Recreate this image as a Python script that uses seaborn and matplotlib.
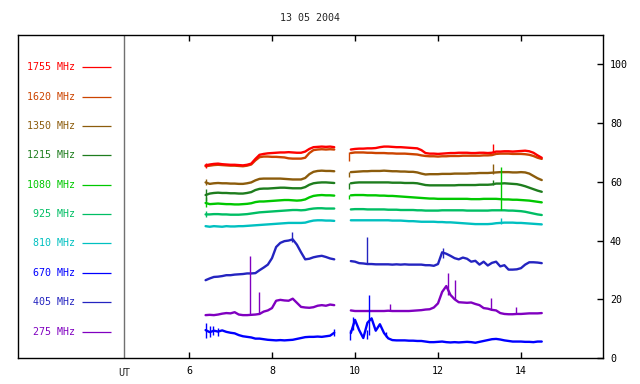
import numpy as np
import pandas as pd
import matplotlib
matplotlib.use("Agg")
import matplotlib.pyplot as plt
import matplotlib.transforms as mtransforms
import seaborn as sns

# ---------------- data ----------------
freq_labels = ["1755 MHz", "1620 MHz", "1350 MHz", "1215 MHz", "1080 MHz",
               "925 MHz", "810 MHz", "670 MHz", "405 MHz", "275 MHz"]
freq_colors = ["#ff0000", "#cc4400", "#8c5c0c", "#1e7d1e", "#00c800",
               "#00be64", "#00c0c0", "#0000ff", "#2424c0", "#8000c0"]
legend_levels = [99, 89, 79, 69, 59, 49, 39, 29, 19, 9]

x_ticks = [6, 8, 10, 12, 14]
y_ticks = [0, 20, 40, 60, 80, 100]
title_text = "13 05 2004"

times_a = [6.4, 6.5, 6.6, 6.7, 6.8, 6.9, 7.0, 7.1, 7.2, 7.3, 7.4, 7.5, 7.6, 7.7,
           7.8, 7.9, 8.0, 8.1, 8.2, 8.3, 8.4, 8.5, 8.6, 8.7, 8.8, 8.9, 9.0, 9.1,
           9.2, 9.3, 9.4, 9.5]
times_b = [9.9, 10.0, 10.1, 10.2, 10.3, 10.4, 10.5, 10.6, 10.7, 10.8, 10.9,
           11.0, 11.1, 11.2, 11.3, 11.4, 11.5, 11.6, 11.7, 11.8, 11.9,
           12.0, 12.1, 12.2, 12.3, 12.4, 12.5, 12.6, 12.7, 12.8, 12.9,
           13.0, 13.1, 13.2, 13.3, 13.4, 13.5, 13.6, 13.7, 13.8, 13.9,
           14.0, 14.1, 14.2, 14.3, 14.4, 14.5]

f1755_a = [65.6, 65.9, 66.1, 66.2, 66.0, 65.9, 65.8, 65.8, 65.7, 65.6, 65.8, 66.2,
           67.8, 69.2, 69.5, 69.7, 69.8, 69.9, 70.0, 70.0, 70.1, 70.0, 69.9, 69.9,
           70.3, 71.2, 71.8, 71.9, 72.0, 71.9, 72.0, 71.8]
f1755_b = [71.0, 71.2, 71.3, 71.3, 71.4, 71.4, 71.5, 71.8, 72.0, 72.0, 71.9,
           71.8, 71.8, 71.7, 71.6, 71.5, 71.4, 70.8, 69.8, 69.6, 69.6,
           69.5, 69.6, 69.7, 69.8, 69.8, 69.9, 69.9, 69.9, 69.8, 69.8,
           69.9, 69.9, 69.8, 69.9, 70.3, 70.3, 70.4, 70.4, 70.3, 70.4,
           70.5, 70.6, 70.4, 69.9, 69.0, 68.2]

f1620_a = [65.3, 65.5, 65.7, 65.8, 65.7, 65.6, 65.5, 65.5, 65.4, 65.3, 65.5, 65.9,
           67.3, 68.4, 68.6, 68.6, 68.5, 68.5, 68.4, 68.3, 68.0, 67.9, 67.9, 67.9,
           68.2, 69.8, 70.8, 71.0, 71.1, 71.0, 71.1, 71.0]
f1620_b = [69.8, 70.0, 70.0, 70.0, 69.9, 69.9, 69.8, 69.8, 69.8, 69.7, 69.7,
           69.6, 69.6, 69.6, 69.5, 69.4, 69.3, 69.0, 68.8, 68.7, 68.7,
           68.6, 68.7, 68.7, 68.8, 68.8, 68.8, 68.9, 68.9, 68.9, 68.9,
           68.9, 69.0, 69.0, 69.1, 69.5, 69.6, 69.6, 69.6, 69.5, 69.5,
           69.5, 69.4, 69.2, 68.8, 68.2, 67.8]

f1350_a = [59.8, 59.3, 59.5, 59.6, 59.5, 59.5, 59.4, 59.4, 59.3, 59.3, 59.5, 59.8,
           60.5, 61.0, 61.1, 61.1, 61.1, 61.1, 61.1, 61.0, 60.9, 60.8, 60.8, 60.8,
           61.3, 62.6, 63.4, 63.7, 63.8, 63.7, 63.7, 63.6]
f1350_b = [63.3, 63.4, 63.5, 63.6, 63.6, 63.7, 63.7, 63.7, 63.8, 63.7, 63.6,
           63.6, 63.5, 63.5, 63.4, 63.4, 63.2, 62.8, 62.5, 62.6, 62.6,
           62.6, 62.7, 62.7, 62.7, 62.8, 62.8, 62.8, 62.8, 62.9, 62.9,
           63.0, 63.0, 63.0, 63.1, 63.2, 63.3, 63.3, 63.3, 63.2, 63.2,
           63.3, 63.2, 62.8, 62.0, 61.2, 60.6]

f1215_a = [55.5, 56.0, 56.2, 56.3, 56.2, 56.2, 56.1, 56.1, 56.0, 56.0, 56.2, 56.5,
           57.2, 57.6, 57.7, 57.7, 57.8, 57.9, 58.0, 58.0, 57.9, 57.8, 57.8, 57.8,
           58.2, 59.0, 59.5, 59.7, 59.8, 59.8, 59.7, 59.6]
f1215_b = [59.5, 59.7, 59.8, 59.8, 59.8, 59.8, 59.8, 59.8, 59.8, 59.8, 59.7,
           59.7, 59.7, 59.6, 59.6, 59.6, 59.5, 59.2, 58.9, 58.8, 58.8,
           58.8, 58.8, 58.8, 58.8, 58.8, 58.9, 58.9, 58.9, 58.9, 58.9,
           59.0, 59.0, 59.0, 59.1, 59.4, 59.4, 59.5, 59.4, 59.3, 59.2,
           58.9, 58.5, 58.0, 57.5, 57.0, 56.6]

f1080_a = [52.8, 52.4, 52.5, 52.6, 52.5, 52.4, 52.4, 52.3, 52.3, 52.4, 52.5, 52.7,
           53.1, 53.3, 53.3, 53.4, 53.5, 53.6, 53.7, 53.8, 53.8, 53.7, 53.6, 53.7,
           54.0, 54.7, 55.2, 55.4, 55.5, 55.4, 55.4, 55.3]
f1080_b = [55.4, 55.5, 55.5, 55.5, 55.4, 55.4, 55.4, 55.3, 55.3, 55.2, 55.2,
           55.1, 55.0, 54.9, 54.8, 54.7, 54.6, 54.5, 54.4, 54.3, 54.3,
           54.2, 54.2, 54.2, 54.2, 54.2, 54.2, 54.2, 54.2, 54.1, 54.1,
           54.1, 54.2, 54.2, 54.2, 54.2, 54.1, 54.0, 54.0, 53.9, 53.9,
           53.8, 53.7, 53.6, 53.4, 53.2, 53.0]

f925_a = [48.9, 48.9, 49.0, 49.0, 48.9, 48.9, 48.8, 48.8, 48.8, 48.9, 49.0, 49.2,
          49.4, 49.6, 49.7, 49.8, 49.9, 50.0, 50.1, 50.2, 50.3, 50.4, 50.4, 50.3,
          50.4, 50.7, 50.9, 51.0, 51.0, 50.9, 50.9, 50.9]
f925_b = [50.6, 50.7, 50.7, 50.7, 50.6, 50.6, 50.6, 50.6, 50.6, 50.5, 50.5,
          50.5, 50.4, 50.4, 50.4, 50.4, 50.3, 50.3, 50.2, 50.2, 50.2,
          50.2, 50.3, 50.3, 50.3, 50.3, 50.3, 50.3, 50.2, 50.2, 50.2,
          50.2, 50.2, 50.2, 50.3, 50.3, 50.3, 50.3, 50.2, 50.2, 50.1,
          50.0, 49.8, 49.5, 49.2, 48.9, 48.7]

f810_a = [44.9, 44.7, 44.9, 44.8, 44.7, 44.9, 44.8, 44.8, 44.9, 44.9, 45.0, 45.1,
          45.2, 45.3, 45.4, 45.5, 45.6, 45.7, 45.8, 45.9, 46.0, 46.0, 46.0, 46.0,
          46.1, 46.5, 46.8, 46.9, 46.9, 46.8, 46.8, 46.7]
f810_b = [46.9, 46.9, 46.9, 46.9, 46.9, 46.9, 46.9, 46.9, 46.9, 46.9, 46.8,
          46.8, 46.8, 46.7, 46.6, 46.6, 46.5, 46.4, 46.4, 46.4, 46.4,
          46.3, 46.3, 46.2, 46.2, 46.1, 46.0, 45.9, 45.8, 45.7, 45.6,
          45.6, 45.6, 45.6, 45.7, 45.9, 46.0, 46.1, 46.1, 46.1, 46.0,
          46.0, 45.9, 45.8, 45.7, 45.6, 45.5]

f670_a = [9.5, 8.8, 9.3, 9.0, 9.4, 8.9, 8.6, 8.4, 7.8, 7.4, 7.2, 7.0,
          6.6, 6.6, 6.4, 6.2, 6.1, 6.0, 6.1, 6.0, 6.1, 6.2, 6.5, 6.8,
          7.1, 7.2, 7.2, 7.3, 7.2, 7.4, 7.6, 8.6]
f670_b = [8.5, 13.0, 9.5, 6.8, 12.0, 13.5, 9.3, 11.5, 8.5, 6.7, 6.1,
          6.0, 6.0, 6.0, 5.9, 5.9, 5.8, 5.8, 5.6, 5.4, 5.4,
          5.5, 5.6, 5.4, 5.3, 5.4, 5.3, 5.4, 5.5, 5.4, 5.2,
          5.5, 5.8, 6.1, 6.4, 6.5, 6.3, 6.0, 5.8, 5.6, 5.6,
          5.6, 5.5, 5.5, 5.4, 5.6, 5.6]

f405_a = [26.5, 27.1, 27.6, 27.7, 27.9, 28.2, 28.2, 28.4, 28.5, 28.6, 28.8, 28.8,
          28.9, 29.9, 30.8, 31.8, 34.0, 37.8, 39.2, 39.8, 40.0, 40.4, 38.6, 36.0,
          33.6, 33.8, 34.3, 34.6, 34.8, 34.4, 33.9, 33.6]
f405_b = [33.0, 32.8, 32.3, 32.2, 32.0, 32.0, 31.9, 31.9, 31.9, 31.9, 31.8,
          31.9, 31.8, 31.9, 31.8, 31.8, 31.8, 31.8, 31.6, 31.6, 31.4,
          32.0, 36.0, 35.5, 34.8, 34.0, 33.6, 34.2, 33.8, 32.8, 33.1,
          31.8, 32.8, 31.5, 32.4, 32.8, 31.2, 31.6, 30.1, 30.1, 30.2,
          30.6, 31.8, 32.6, 32.6, 32.5, 32.3]

f275_a = [14.6, 14.7, 14.6, 14.8, 15.1, 15.3, 15.2, 15.6, 14.8, 14.6, 14.6, 14.7,
          14.8, 15.0, 15.8, 16.2, 17.0, 19.5, 19.8, 19.6, 19.5, 20.2, 18.8, 17.4,
          17.2, 17.1, 17.3, 17.8, 18.0, 17.8, 18.2, 18.0]
f275_b = [16.2, 16.0, 16.0, 16.0, 16.0, 16.0, 16.0, 16.0, 16.0, 16.1, 16.0,
          16.0, 16.0, 16.0, 16.0, 16.1, 16.2, 16.3, 16.5, 16.6, 17.2,
          18.6, 22.5, 24.5, 21.5, 20.0, 19.0, 18.9, 18.8, 18.9, 18.4,
          18.0, 17.0, 16.8, 16.4, 16.2, 15.3, 15.0, 14.9, 14.9, 15.0,
          15.0, 15.1, 15.2, 15.2, 15.2, 15.3]

# short spikes: (time, low value, high value)
spk_1755 = [(6.41, 64.8, 66.5), (13.33, 69.8, 73.0)]
spk_1620 = [(9.86, 67.2, 70.0)]
spk_1350 = [(6.41, 58.8, 61.0), (9.86, 61.8, 63.5), (13.33, 62.8, 66.2)]
spk_1215 = [(6.41, 53.5, 57.5), (9.86, 57.5, 59.6), (13.33, 58.8, 60.7)]
spk_1080 = [(6.41, 51.5, 54.8), (9.86, 54.0, 55.5), (13.51, 50.3, 65.0)]
spk_925 = [(6.41, 48.0, 50.0)]
spk_810 = [(13.51, 45.6, 47.6)]
spk_670 = [(6.42, 6.8, 11.8), (6.5, 7.2, 11.0), (6.58, 7.8, 10.9), (6.7, 7.6, 10.3),
           (9.5, 7.6, 10.0), (9.87, 6.2, 9.5), (9.95, 9.5, 14.0), (10.28, 6.6, 9.5),
           (10.34, 8.0, 21.4), (10.75, 7.0, 8.8)]
spk_405 = [(8.49, 39.5, 42.9), (10.28, 32.0, 41.3), (12.13, 34.0, 37.5)]
spk_275 = [(7.48, 14.7, 34.7), (7.69, 15.0, 22.6), (10.84, 16.0, 18.5),
           (12.23, 21.5, 28.8), (12.4, 20.0, 26.5), (13.28, 16.4, 20.3),
           (13.88, 14.9, 17.2)]

series_a = [f1755_a, f1620_a, f1350_a, f1215_a, f1080_a, f925_a, f810_a, f670_a, f405_a, f275_a]
series_b = [f1755_b, f1620_b, f1350_b, f1215_b, f1080_b, f925_b, f810_b, f670_b, f405_b, f275_b]
spikes = [spk_1755, spk_1620, spk_1350, spk_1215, spk_1080, spk_925, spk_810, spk_670, spk_405, spk_275]

for sa, sb, lab in zip(series_a, series_b, freq_labels):
    assert len(sa) == len(times_a), (lab, "a", len(sa))
    assert len(sb) == len(times_b), (lab, "b", len(sb))

rows = []
for lab, sa, sb in zip(freq_labels, series_a, series_b):
    for t, v in zip(times_a, sa):
        rows.append((lab, "a", t, v))
    for t, v in zip(times_b, sb):
        rows.append((lab, "b", t, v))
df = pd.DataFrame(rows, columns=["freq", "seg", "t", "v"])

# ---------------- figure ----------------
sns.set_style("white")
plt.rcParams["font.family"] = ["DejaVu Sans Mono"]
plt.rcParams["font.size"] = 7.2

fig = plt.figure(figsize=(6.4, 3.84), dpi=100)
ax = fig.add_axes([18 / 640, 26 / 384, 585 / 640, 323 / 384])

palette = dict(zip(freq_labels, freq_colors))
draw_order = freq_labels[::-1]
sns.lineplot(data=df, x="t", y="v", hue="freq", units="seg", estimator=None,
             palette=palette, hue_order=draw_order, linewidth=1.7,
             legend=False, sort=False, ax=ax)

for lab, spk in zip(draw_order, spikes[::-1]):
    for (t, lo, hi) in spk:
        ax.vlines(t, lo, hi, color=palette[lab], linewidth=1.0)

ax.set_xlim(1.88, 15.976)
ax.set_ylim(0, 110)
ax.set_xlabel("")
ax.set_ylabel("")
ax.set_xticks(x_ticks)
ax.set_xticklabels([str(v) for v in x_ticks])
ax.set_yticks(y_ticks)
ax.set_yticklabels([str(v) for v in y_ticks])
ax.tick_params(axis="x", direction="in", length=4, width=1, top=True, bottom=True,
               labelbottom=True, labeltop=False, pad=6, colors="black")
ax.tick_params(axis="y", direction="in", length=4, width=1, left=False, right=True,
               labelleft=False, labelright=True, pad=5, colors="black")
for sp in ax.spines.values():
    sp.set_visible(True)
    sp.set_color("black")
    sp.set_linewidth(1.0)

# left legend panel
blend = mtransforms.blended_transform_factory(ax.transAxes, ax.transData)
for lab, col, lev in zip(freq_labels, freq_colors, legend_levels):
    ax.text(0.0974, lev, lab, transform=blend, ha="right", va="center", color=col,
            fontsize=7.2)
    ax.plot([0.109, 0.159], [lev, lev], transform=blend, color=col, linewidth=0.9,
            solid_capstyle="butt")

ax.plot([0.181, 0.181], [0, 1], transform=ax.transAxes, color="#707070", linewidth=1.0)
ax.text(0.181, -0.031, "UT", transform=ax.transAxes, ha="center", va="top",
        fontsize=7.2)

fig.text(310.5 / 640, 1 - 18 / 384, title_text, ha="center", va="center", fontsize=7.2)

fig.savefig("out.png", dpi=100)
